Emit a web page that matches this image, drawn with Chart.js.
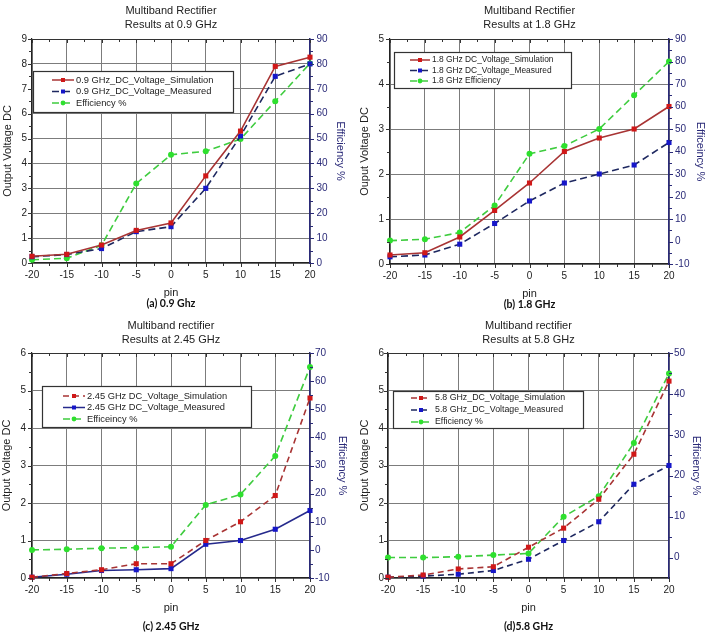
<!DOCTYPE html>
<html><head><meta charset="utf-8">
<script src="https://cdn.jsdelivr.net/npm/chart.js@4.4.0/dist/chart.umd.min.js"></script>
<style>
html,body{margin:0;padding:0;background:#fff;}
#wrap{position:relative;width:713px;height:633px;overflow:hidden;background:#fff;}
.panel{position:absolute;}
.panel canvas{position:absolute;left:0;top:0;}
.ttl{position:absolute;width:220px;text-align:center;font:11px "Liberation Sans",Arial,sans-serif;color:#222;line-height:14px;z-index:2;white-space:nowrap;}
.cap{position:absolute;width:160px;text-align:center;font:bold 10.5px Lato,"Open Sans",sans-serif;color:#111;line-height:12px;z-index:2;white-space:nowrap;}
</style>
</head><body>
<div id="wrap"></div>
<script>
// ---------- DATA ----------
const pinValues = [-20, -15, -10, -5, 0, 5, 10, 15, 20];
const xTickValues = [-20, -15, -10, -5, 0, 5, 10, 15, 20];

// (a) 0.9 GHz
const simA  = [0.27, 0.35, 0.72, 1.31, 1.61, 3.5, 5.3, 7.9, 8.27];
const measA = [0.25, 0.34, 0.58, 1.26, 1.46, 3.0, 5.1, 7.5, 8.0];
const effA  = [1.3, 1.9, 7.1, 31.9, 43.5, 44.9, 49.8, 65, 80.2];
const leftTicksA  = [0, 1, 2, 3, 4, 5, 6, 7, 8, 9];
const rightTicksA = [0, 10, 20, 30, 40, 50, 60, 70, 80, 90];
const legendA = ["0.9 GHz_DC_Voltage_Simulation", "0.9 GHz_DC_Voltage_Measured", "Efficiency %"];

// (b) 1.8 GHz
const simB  = [0.2, 0.25, 0.6, 1.19, 1.8, 2.5, 2.8, 3.0, 3.5];
const measB = [0.16, 0.2, 0.44, 0.9, 1.4, 1.8, 2.0, 2.2, 2.7];
const effB  = [0.4, 1, 4, 16, 39, 42.5, 50, 65, 80];
const leftTicksB  = [0, 1, 2, 3, 4, 5];
const rightTicksB = [-10, 0, 10, 20, 30, 40, 50, 60, 70, 80, 90];
const legendB = ["1.8 GHz DC_Voltage_Simulation", "1.8 GHz DC_Voltage_Measured", "1.8 GHz Efficiency"];

// (c) 2.45 GHz
const simC  = [0.02, 0.12, 0.22, 0.38, 0.38, 1.0, 1.5, 2.2, 4.8];
const measC = [0.02, 0.1, 0.2, 0.22, 0.25, 0.9, 1.0, 1.3, 1.8];
const effC  = [0, 0.2, 0.6, 0.8, 1.1, 16, 19.7, 33.4, 65];
const leftTicksC  = [0, 1, 2, 3, 4, 5, 6];
const rightTicksC = [-10, 0, 10, 20, 30, 40, 50, 60, 70];
const legendC = ["2.45 GHz DC_Voltage_Simulation", "2.45 GHz DC_Voltage_Measured", "Efficeincy %"];

// (d) 5.8 GHz
const simD  = [0.02, 0.08, 0.24, 0.3, 0.82, 1.33, 2.1, 3.3, 5.25];
const measD = [0.02, 0.05, 0.1, 0.2, 0.5, 1.0, 1.5, 2.5, 3.0];
const effD  = [0, 0, 0.2, 0.6, 1.0, 10, 15, 28, 45];
const leftTicksD  = [0, 1, 2, 3, 4, 5, 6];
const rightTicksD = [0, 10, 20, 30, 40, 50];
const legendD = ["5.8 GHz_DC_Voltage_Simulation", "5.8 GHz_DC_Voltage_Measured", "Efficiency %"];

const titlesA = ["Multiband Rectifier", "Results at 0.9 GHz"];
const titlesB = ["Multiband Rectifier", "Results at 1.8 GHz"];
const titlesC = ["Multiband rectifier", "Results at 2.45 GHz"];
const titlesD = ["Multiband rectifier", "Results at 5.8 GHz"];
const captions = ["(a) 0.9 Ghz", "(b) 1.8 GHz", "(c) 2.45 GHz", "(d)5.8 GHz"];
const yTitles = ["Output Voltage DC", "Ouput Voltage DC", "Output Voltage DC", "Output Voltage DC"];
const y2Titles = ["Efficiency %", "Efficeincy %", "Efficiency %", "Efficiency %"];

// ---------- STYLE / LAYOUT ----------
Chart.defaults.font.family = '"Liberation Sans", Arial, sans-serif';
Chart.defaults.color = '#222';
const NAVY = '#2a2a78';
const GRID = '#7c7c7c';

const panels = [
  { left: 0,   top: 0,   W: 356, H: 316, ca: {l: 32, r: 310, t: 39, b: 263},
    titleTop: 3, capTop: 297, yPad: 1, y2Pad: 9.4, yTickPad: 5, y2TickPad: 6.5,
    sim: simA, meas: measA, eff: effA, lt: leftTicksA, rt: rightTicksA, legend: legendA, titles: titlesA,
    yMin: 0, yMax: 9, y2Min: 0, y2Max: 90, simDash: [], measDash: [7, 4], measLine: '#1e2860',
    leg: {x: 33, y: 71, w: 200, h: 41, s0: 19, s1: 41, tx: 43, rows: [9, 20.5, 32], fs: 9.3} },
  { left: 356, top: 0,   W: 357, H: 316, ca: {l: 34, r: 313, t: 39, b: 264},
    titleTop: 3, capTop: 298, yPad: 2.4, y2Pad: 6.4, yTickPad: 6, y2TickPad: 6,
    sim: simB, meas: measB, eff: effB, lt: leftTicksB, rt: rightTicksB, legend: legendB, titles: titlesB,
    yMin: 0, yMax: 5, y2Min: -10, y2Max: 90, simDash: [], measDash: [7, 4], measLine: '#1e2860',
    leg: {x: 38, y: 52, w: 177, h: 36, s0: 16, s1: 36, tx: 38, rows: [8, 18.5, 29], fs: 8.4} },
  { left: 0,   top: 316, W: 356, H: 317, ca: {l: 32, r: 310, t: 37, b: 262},
    titleTop: 2, capTop: 304, yPad: 0.4, y2Pad: 7.4, yTickPad: 6, y2TickPad: 5,
    sim: simC, meas: measC, eff: effC, lt: leftTicksC, rt: rightTicksC, legend: legendC, titles: titlesC,
    yMin: 0, yMax: 6, y2Min: -10, y2Max: 70, simDash: [6, 4], measDash: [], measLine: '#262a8c',
    leg: {x: 42, y: 70, w: 209, h: 41, s0: 21, s1: 43, tx: 45, rows: [10, 21.5, 33], fs: 9.3} },
  { left: 356, top: 316, W: 357, H: 317, ca: {l: 32, r: 313, t: 37, b: 262},
    titleTop: 2, capTop: 304, yPad: 2.4, y2Pad: 10.4, yTickPad: 4, y2TickPad: 5,
    sim: simD, meas: measD, eff: effD, lt: leftTicksD, rt: rightTicksD, legend: legendD, titles: titlesD,
    yMin: 0, yMax: 6, y2Min: -5, y2Max: 50, simDash: [6, 4], measDash: [6, 4], measLine: '#1e2860',
    leg: {x: 37, y: 75, w: 190, h: 37, s0: 18, s1: 38, tx: 42, rows: [7, 19, 31], fs: 8.8} }
];

const mids = arr => arr.slice(1).map((v, i) => (v + arr[i]) / 2);

const framePlugin = {
  id: 'frameTicks',
  afterDatasetsDraw(chart, args, o) {
    const ctx = chart.ctx, ca = chart.chartArea;
    const xs = chart.scales.x, ys = chart.scales.y, y2 = chart.scales.y2;
    ctx.save();
    ctx.lineWidth = 1;
    ctx.strokeStyle = '#333';
    ctx.beginPath();
    ctx.moveTo(ca.left, Math.round(ca.top) + 0.5); ctx.lineTo(ca.right, Math.round(ca.top) + 0.5);
    o.xt.forEach(v => { const p = Math.round(xs.getPixelForValue(v)) + 0.5;
      ctx.moveTo(p, ca.bottom); ctx.lineTo(p, ca.bottom + 4); ctx.moveTo(p, ca.top); ctx.lineTo(p, ca.top + 4); });
    mids(o.xt).forEach(v => { const p = Math.round(xs.getPixelForValue(v)) + 0.5;
      ctx.moveTo(p, ca.bottom); ctx.lineTo(p, ca.bottom + 3); ctx.moveTo(p, ca.top); ctx.lineTo(p, ca.top + 3); });
    o.lt.forEach(v => { const p = Math.round(ys.getPixelForValue(v)) + 0.5;
      ctx.moveTo(ca.left - 4, p); ctx.lineTo(ca.left, p); });
    mids(o.lt).forEach(v => { const p = Math.round(ys.getPixelForValue(v)) + 0.5;
      ctx.moveTo(ca.left - 3, p); ctx.lineTo(ca.left, p); });
    ctx.stroke();
    ctx.strokeStyle = NAVY;
    ctx.beginPath();
    o.rt.forEach(v => { const p = Math.round(y2.getPixelForValue(v)) + 0.5;
      ctx.moveTo(ca.right, p); ctx.lineTo(ca.right + 4, p); });
    mids(o.rt).forEach(v => { const p = Math.round(y2.getPixelForValue(v)) + 0.5;
      ctx.moveTo(ca.right, p); ctx.lineTo(ca.right + 3, p); });
    ctx.stroke();

    const L = o.leg;
    ctx.fillStyle = '#fff';
    ctx.fillRect(L.x, L.y, L.w, L.h);
    ctx.strokeStyle = '#333';
    ctx.lineWidth = 1.2;
    ctx.strokeRect(L.x + 0.5, L.y + 0.5, L.w, L.h);
    chart.data.datasets.forEach((ds, i) => {
      const yy = L.y + L.rows[i];
      ctx.save();
      ctx.strokeStyle = ds.borderColor;
      ctx.lineWidth = 1.5;
      ctx.setLineDash(ds.borderDash || []);
      ctx.beginPath();
      ctx.moveTo(L.x + L.s0, yy); ctx.lineTo(L.x + L.s1, yy);
      ctx.stroke();
      ctx.restore();
      const cx = L.x + (L.s0 + L.s1) / 2;
      ctx.fillStyle = ds.pointBackgroundColor;
      if (ds.pointStyle === 'rect') {
        ctx.fillRect(cx - 2, yy - 2, 4, 4);
      } else {
        ctx.beginPath(); ctx.arc(cx, yy, 2.4, 0, Math.PI * 2); ctx.fill();
      }
      ctx.fillStyle = '#222';
      ctx.font = L.fs + 'px "Liberation Sans", Arial, sans-serif';
      ctx.textBaseline = 'middle';
      ctx.textAlign = 'left';
      ctx.fillText(ds.label, L.x + L.tx, yy);
    });
    ctx.restore();
  }
};

const wrap = document.getElementById('wrap');
panels.forEach((P, idx) => {
  const div = document.createElement('div');
  div.className = 'panel';
  div.style.left = P.left + 'px'; div.style.top = P.top + 'px';
  div.style.width = P.W + 'px'; div.style.height = P.H + 'px';
  const cv = document.createElement('canvas');
  cv.width = P.W; cv.height = P.H;
  cv.style.width = P.W + 'px'; cv.style.height = P.H + 'px';
  div.appendChild(cv);
  const cx = (P.ca.l + P.ca.r) / 2;
  P.titles.forEach((t, k) => {
    const d = document.createElement('div');
    d.className = 'ttl'; d.textContent = t;
    d.style.left = (cx - 110) + 'px'; d.style.top = (P.titleTop + k * 14) + 'px';
    div.appendChild(d);
  });
  const c = document.createElement('div');
  c.className = 'cap'; c.textContent = captions[idx];
  c.style.left = (cx - 80) + 'px'; c.style.top = P.capTop + 'px';
  div.appendChild(c);
  wrap.appendChild(div);

  const pts = arr => pinValues.map((p, i) => ({x: p, y: arr[i]}));
  const xAxisH = 37;
  new Chart(cv, {
    type: 'line',
    data: {
      datasets: [
        { label: P.legend[0], data: pts(P.sim), yAxisID: 'y', borderColor: '#a83434', borderWidth: 1.6,
          borderDash: P.simDash, pointStyle: 'rect', pointRadius: 3.6, pointBackgroundColor: '#d01818',
          pointBorderColor: '#d01818', pointBorderWidth: 0, tension: 0, clip: false },
        { label: P.legend[1], data: pts(P.meas), yAxisID: 'y', borderColor: P.measLine, borderWidth: 1.6,
          borderDash: P.measDash, pointStyle: 'rect', pointRadius: 3.6, pointBackgroundColor: '#1616c8',
          pointBorderColor: '#1616c8', pointBorderWidth: 0, tension: 0, clip: false },
        { label: P.legend[2], data: pts(P.eff), yAxisID: 'y2', borderColor: '#3fcc3f', borderWidth: 1.6,
          borderDash: [7, 4], pointStyle: 'circle', pointRadius: 3, pointBackgroundColor: '#2ee02e',
          pointBorderColor: '#2ee02e', pointBorderWidth: 0, tension: 0, clip: false }
      ]
    },
    options: {
      responsive: false, maintainAspectRatio: false, animation: false,
      devicePixelRatio: 1,
      layout: { padding: { top: P.ca.t, bottom: P.H - P.ca.b - xAxisH, left: 0, right: 0 } },
      plugins: {
        legend: { display: false }, tooltip: { enabled: false },
        frameTicks: { xt: xTickValues, lt: P.lt, rt: P.rt, leg: P.leg }
      },
      scales: {
        x: {
          type: 'linear', position: 'bottom', min: -20, max: 20,
          afterBuildTicks: s => { s.ticks = xTickValues.map(v => ({value: v})); },
          afterFit: s => { s.height = xAxisH; },
          grid: { color: GRID, lineWidth: 1, drawTicks: false },
          border: { display: true, color: '#222', width: 1.2 },
          ticks: { padding: 6, font: { size: 10 }, color: '#222', maxRotation: 0 },
          title: { display: true, text: 'pin', font: { size: 11 }, color: '#222', padding: { top: 0, bottom: 0 } }
        },
        y: {
          type: 'linear', position: 'left', min: P.yMin, max: P.yMax,
          afterBuildTicks: s => { s.ticks = P.lt.map(v => ({value: v})); },
          afterFit: s => { s.width = P.ca.l; },
          grid: { color: GRID, lineWidth: 1, drawTicks: false },
          border: { display: true, color: '#222', width: 1.2 },
          ticks: { padding: P.yTickPad, font: { size: 10 }, color: '#222' },
          title: { display: true, text: yTitles[idx], font: { size: 11 }, color: '#222', padding: { top: P.yPad, bottom: 0 } }
        },
        y2: {
          type: 'linear', position: 'right', min: P.y2Min, max: P.y2Max,
          afterBuildTicks: s => { s.ticks = P.rt.map(v => ({value: v})); },
          afterFit: s => { s.width = P.W - P.ca.r; },
          grid: { display: false, drawTicks: false },
          border: { display: true, color: NAVY, width: 1.5 },
          ticks: { padding: P.y2TickPad, font: { size: 10 }, color: NAVY },
          title: { display: true, text: y2Titles[idx], font: { size: 11 }, color: NAVY, padding: { top: P.y2Pad, bottom: 0 } }
        }
      }
    },
    plugins: [framePlugin]
  });
});
</script>
</body></html>
